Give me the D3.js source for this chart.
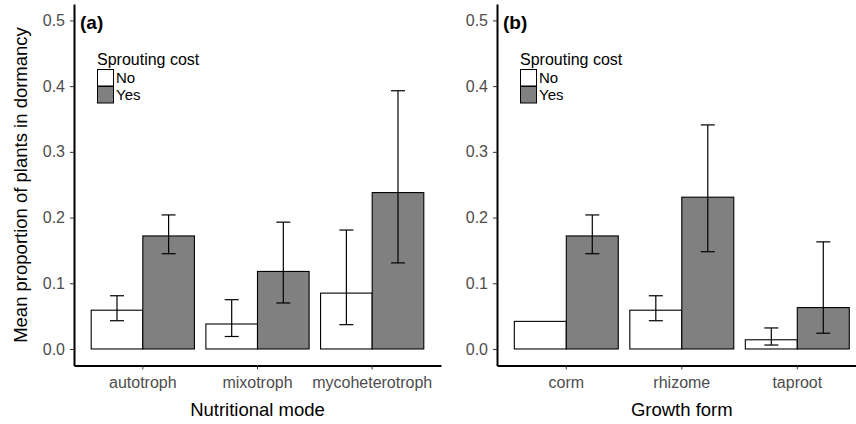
<!DOCTYPE html>
<html><head><meta charset="utf-8">
<script src="https://cdn.jsdelivr.net/npm/d3@7"></script>
<style>body{margin:0;background:#fff}svg{display:block;font-family:"Liberation Sans",Arial,sans-serif}</style>
</head><body><svg id="c" width="856" height="424"></svg>
<script>
// ---- data ----
const groups = ["No", "Yes"];
const catsA = ["autotroph", "mixotroph", "mycoheterotroph"];
const meanA_No  = [0.059, 0.038, 0.085];
const meanA_Yes = [0.172, 0.118, 0.238];
const lowA_No   = [0.043, 0.019, 0.037];
const highA_No  = [0.081, 0.075, 0.181];
const lowA_Yes  = [0.145, 0.070, 0.131];
const highA_Yes = [0.204, 0.193, 0.393];

const catsB = ["corm", "rhizome", "taproot"];
const meanB_No  = [0.042, 0.059, 0.014];
const meanB_Yes = [0.172, 0.231, 0.063];
const lowB_No   = [null, 0.043, 0.006];
const highB_No  = [null, 0.081, 0.032];
const lowB_Yes  = [0.145, 0.148, 0.024];
const highB_Yes = [0.204, 0.341, 0.163];

const yTicks = [0, 0.1, 0.2, 0.3, 0.4, 0.5];
const fills = {No: "#ffffff", Yes: "#808080"};

const svg = d3.select("#c");
const y = d3.scaleLinear().domain([-0.025, 0.525]).range([365.4, 4]);

function panel(cfg) {
  const g = svg.append("g");
  const x = d3.scaleBand().domain(cfg.cats).range([cfg.x0, cfg.x1]).paddingInner(0.1).paddingOuter(0.15);
  const xs = d3.scaleBand().domain(groups).range([0, x.bandwidth()]);
  const rows = [];
  cfg.cats.forEach((c, i) => {
    rows.push({c, grp: "No", m: cfg.mNo[i], lo: cfg.loNo[i], hi: cfg.hiNo[i]});
    rows.push({c, grp: "Yes", m: cfg.mYes[i], lo: cfg.loYes[i], hi: cfg.hiYes[i]});
  });
  g.selectAll("rect.bar").data(rows).join("rect").attr("class", "bar")
    .attr("x", d => x(d.c) + xs(d.grp))
    .attr("y", d => y(d.m))
    .attr("width", xs.bandwidth())
    .attr("height", d => y(0) - y(d.m))
    .attr("fill", d => fills[d.grp])
    .attr("stroke", "#000").attr("stroke-width", 1.1);
  const eb = rows.filter(d => d.lo != null);
  const cap = 7;
  const ge = g.selectAll("g.eb").data(eb).join("g").attr("class", "eb")
    .attr("stroke", "#000").attr("stroke-width", 1.2);
  ge.append("line").attr("x1", d => x(d.c) + xs(d.grp) + xs.bandwidth()/2).attr("x2", d => x(d.c) + xs(d.grp) + xs.bandwidth()/2)
    .attr("y1", d => y(d.lo)).attr("y2", d => y(d.hi));
  ge.append("line").attr("x1", d => x(d.c) + xs(d.grp) + xs.bandwidth()/2 - cap).attr("x2", d => x(d.c) + xs(d.grp) + xs.bandwidth()/2 + cap)
    .attr("y1", d => y(d.lo)).attr("y2", d => y(d.lo));
  ge.append("line").attr("x1", d => x(d.c) + xs(d.grp) + xs.bandwidth()/2 - cap).attr("x2", d => x(d.c) + xs(d.grp) + xs.bandwidth()/2 + cap)
    .attr("y1", d => y(d.hi)).attr("y2", d => y(d.hi));

  // y axis
  const ya = g.append("g").attr("transform", `translate(${cfg.x0},0)`)
    .call(d3.axisLeft(y).tickValues(yTicks).tickFormat(d3.format(".1f")).tickSize(4).tickPadding(5).tickSizeOuter(0));
  ya.select(".domain").attr("stroke", "#000").attr("stroke-width", 2);
  ya.selectAll(".tick line").attr("stroke", "#333");
  ya.selectAll(".tick text").attr("fill", "#4d4d4d").attr("font-size", 16).attr("font-family", "Liberation Sans, Arial, sans-serif");
  // x axis
  const xa = g.append("g").attr("transform", `translate(0,${y.range()[0]})`)
    .call(d3.axisBottom(x).tickSize(4).tickPadding(7).tickSizeOuter(0));
  xa.select(".domain").attr("stroke", "#000").attr("stroke-width", 2);
  xa.selectAll(".tick line").attr("stroke", "#333");
  xa.selectAll(".tick text").attr("fill", "#4d4d4d").attr("font-size", 16).attr("font-family", "Liberation Sans, Arial, sans-serif");
  // axis title
  g.append("text").attr("x", (cfg.x0 + cfg.x1) / 2).attr("y", 416).attr("text-anchor", "middle")
    .attr("font-size", 18.5).attr("fill", "#000").text(cfg.title);
  // panel label
  g.append("text").attr("x", cfg.x0 + 6).attr("y", 29).attr("font-size", 19).attr("font-weight", "bold").text(cfg.label);
  // legend
  const lx = cfg.x0 + 23;
  g.append("text").attr("x", lx).attr("y", 64.5).attr("font-size", 16).attr("fill", "#000").text("Sprouting cost");
  groups.forEach((k, i) => {
    g.append("rect").attr("x", lx + 0.5).attr("y", 69.5 + i * 17).attr("width", 16).attr("height", 16.5)
      .attr("fill", fills[k]).attr("stroke", "#000").attr("stroke-width", 1);
    g.append("text").attr("x", lx + 19).attr("y", 83 + i * 17).attr("font-size", 15).attr("fill", "#000").text(k);
  });
}

panel({cats: catsA, x0: 74, x1: 441, mNo: meanA_No, mYes: meanA_Yes, loNo: lowA_No, hiNo: highA_No, loYes: lowA_Yes, hiYes: highA_Yes, title: "Nutritional mode", label: "(a)"});
panel({cats: catsB, x0: 497, x1: 866.6, mNo: meanB_No, mYes: meanB_Yes, loNo: lowB_No, hiNo: highB_No, loYes: lowB_Yes, hiYes: highB_Yes, title: "Growth form", label: "(b)"});

svg.append("text").attr("transform", "translate(27,185) rotate(-90)").attr("text-anchor", "middle")
  .attr("font-size", 18.5).attr("fill", "#000").text("Mean proportion of plants in dormancy");
</script></body></html>
